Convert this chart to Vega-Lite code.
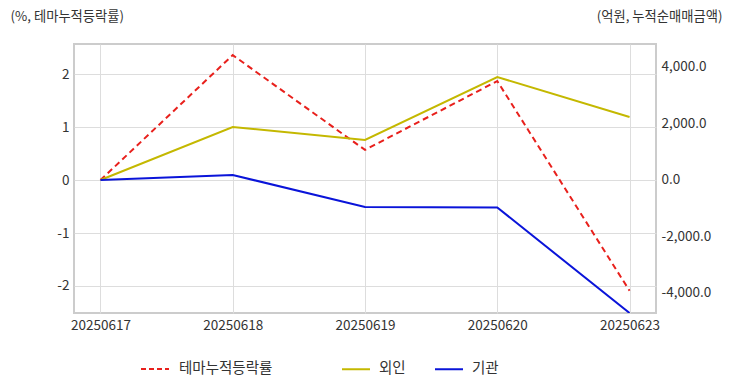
{
  "$schema": "https://vega.github.io/schema/vega-lite/v6.json",
  "width": 582,
  "height": 269,
  "padding": {"left": 74, "top": 44, "right": 76, "bottom": 79},
  "autosize": {"type": "none"},
  "background": "white",
  "config": {
    "locale": {"number": {"decimal": ".", "thousands": ",", "grouping": [3], "currency": ["", ""], "minus": "-"}},
    "font": "Noto Sans CJK KR",
    "view": {"stroke": "#cccccc", "strokeWidth": 2},
    "axis": {"labelFont": "Noto Sans CJK KR", "labelFontSize": 13.5, "labelColor": "#333333", "gridColor": "#dddddd", "domain": false, "ticks": false},
    "legend": {"labelFont": "Noto Sans CJK KR", "labelFontSize": 14.5, "labelColor": "#333333"}
  },
  "data": {"values": [
    {"date": "20250617", "series": "테마누적등락률", "value": 0},
    {"date": "20250618", "series": "테마누적등락률", "value": 2.36},
    {"date": "20250619", "series": "테마누적등락률", "value": 0.57},
    {"date": "20250620", "series": "테마누적등락률", "value": 1.87},
    {"date": "20250623", "series": "테마누적등락률", "value": -2.09},
    {"date": "20250617", "series": "외인", "value": 0},
    {"date": "20250618", "series": "외인", "value": 1876},
    {"date": "20250619", "series": "외인", "value": 1416},
    {"date": "20250620", "series": "외인", "value": 3646},
    {"date": "20250623", "series": "외인", "value": 2230},
    {"date": "20250617", "series": "기관", "value": 0},
    {"date": "20250618", "series": "기관", "value": 177},
    {"date": "20250619", "series": "기관", "value": -956},
    {"date": "20250620", "series": "기관", "value": -973},
    {"date": "20250623", "series": "기관", "value": -4708}
  ]},
  "encoding": {
    "x": {"field": "date", "type": "ordinal", "scale": {"type": "point", "padding": 0.2},
      "axis": {"title": null, "labelAngle": 0, "labelPadding": 5, "grid": true}}
  },
  "layer": [
    {
      "transform": [{"filter": "datum.series === '테마누적등락률'"}],
      "mark": {"type": "line", "strokeWidth": 2, "strokeDash": [6, 4], "clip": true},
      "encoding": {
        "y": {"field": "value", "type": "quantitative",
          "scale": {"domain": [-2.51, 2.57], "nice": false, "zero": false},
          "axis": {"orient": "left", "values": [-2, -1, 0, 1, 2], "format": "d", "labelPadding": 5,
            "title": "(%, 테마누적등락률)", "titleAngle": 0, "titleAlign": "left", "titleBaseline": "middle",
            "titleX": -64, "titleY": -28, "titleFontSize": 13.3, "titleFontWeight": "normal", "titleColor": "#333333"}},
        "color": {"field": "series", "type": "nominal",
          "scale": {"domain": ["테마누적등락률"], "range": ["#e8201c"]},
          "legend": {"title": null, "orient": "none", "legendX": 66, "legendY": 310, "symbolType": "stroke",
            "symbolSize": 784, "symbolStrokeWidth": 2, "symbolDash": [5, 3], "labelOffset": 9, "padding": 0}}
      }
    },
    {
      "transform": [{"filter": "datum.series !== '테마누적등락률'"}],
      "mark": {"type": "line", "strokeWidth": 2, "clip": true},
      "encoding": {
        "y": {"field": "value", "type": "quantitative",
          "scale": {"domain": [-4708, 4814], "nice": false, "zero": false},
          "axis": {"orient": "right", "values": [-4000, -2000, 0, 2000, 4000], "format": ",.1f", "labelPadding": 5,
            "title": "(억원, 누적순매매금액)", "titleAngle": 0, "titleAlign": "right", "titleBaseline": "middle",
            "titleX": 66, "titleY": -28, "titleFontSize": 13.3, "titleFontWeight": "normal", "titleColor": "#333333"}},
        "color": {"field": "series", "type": "nominal",
          "scale": {"domain": ["외인", "기관"], "range": ["#c4b800", "#0a14d9"]},
          "legend": {"title": null, "orient": "none", "direction": "horizontal", "legendX": 267, "legendY": 310,
            "symbolType": "stroke", "symbolSize": 784, "symbolStrokeWidth": 2, "labelOffset": 8, "columnPadding": 25, "padding": 0}}
      }
    }
  ],
  "resolve": {"scale": {"y": "independent", "color": "independent"}}
}
